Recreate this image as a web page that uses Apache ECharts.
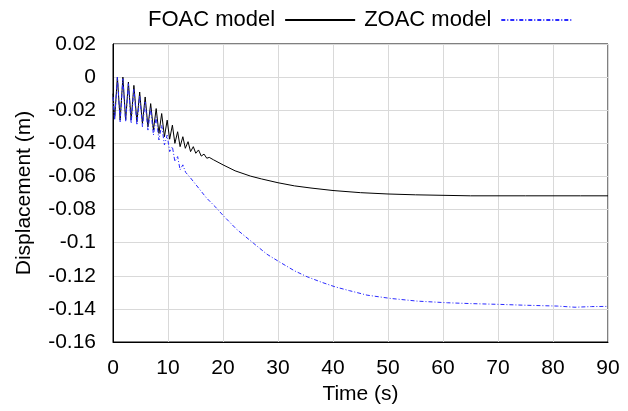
<!DOCTYPE html>
<html>
<head>
<meta charset="utf-8">
<script src="https://cdn.jsdelivr.net/npm/echarts@6/dist/echarts.min.js"></script>
<style>html,body{margin:0;padding:0;background:#fff;}#c{width:628px;height:411px;}</style>
</head>
<body>
<div id="c"></div>
<script>
// FOAC model: time (s) and displacement (m)
const foacT = [0, 0.3, 0.8, 1.3, 1.8, 2.3, 2.8, 3.3, 3.8, 4.35, 4.85, 5.35, 5.85, 6.35, 6.85, 7.35, 7.85, 8.35, 8.85, 9.35, 9.85, 10.3, 10.8, 11.25, 11.75, 12.2, 12.7, 13.15, 13.65, 14.1, 14.6, 15.05, 15.55, 16.05, 16.55, 17.05, 17.5, 18.3, 20, 22.2, 25, 27, 30, 33, 36, 40, 45, 50, 55, 60, 65, 70, 75, 80, 85, 90];
const foacY = [-0.010, -0.025, 0.000, -0.026, 0.000, -0.026, -0.003, -0.026, -0.005, -0.027, -0.009, -0.028, -0.012, -0.030, -0.016, -0.032, -0.019, -0.034, -0.022, -0.036, -0.026, -0.0375, -0.029, -0.040, -0.033, -0.042, -0.036, -0.043, -0.039, -0.045, -0.042, -0.046, -0.044, -0.0477, -0.0465, -0.049, -0.0485, -0.050, -0.053, -0.0566, -0.0598, -0.0615, -0.0638, -0.0657, -0.067, -0.0685, -0.0698, -0.0706, -0.0711, -0.0714, -0.0717, -0.0717, -0.0717, -0.0717, -0.0717, -0.0717];
// ZOAC model
const zoacT = [0, 0.3, 0.8, 1.3, 1.8, 2.3, 2.8, 3.3, 3.8, 4.35, 4.85, 5.35, 5.85, 6.35, 6.85, 7.35, 7.85, 8.35, 8.85, 9.35, 9.85, 10.3, 10.8, 11.25, 11.75, 12.2, 12.7, 13.2, 14, 14.6, 15.8, 17, 18.5, 20, 22.5, 25.6, 28, 30.2, 33, 35.3, 38, 40.4, 43, 46.2, 50.5, 55.3, 60.8, 65, 70.5, 75, 80.8, 84, 87, 90];
const zoacY = [-0.012, -0.026, 0.000, -0.027, -0.001, -0.027, -0.004, -0.028, -0.007, -0.029, -0.011, -0.030, -0.015, -0.032, -0.019, -0.035, -0.024, -0.038, -0.029, -0.041, -0.035, -0.045, -0.042, -0.051, -0.048, -0.056, -0.053, -0.0575, -0.0605, -0.063, -0.068, -0.073, -0.078, -0.0835, -0.092, -0.1005, -0.107, -0.1115, -0.117, -0.1206, -0.124, -0.1267, -0.129, -0.1317, -0.1337, -0.1353, -0.1363, -0.1368, -0.1373, -0.1378, -0.1383, -0.139, -0.1386, -0.1385];
const seriesNames = ['FOAC model', 'ZOAC model'];
const xTicks = [0, 10, 20, 30, 40, 50, 60, 70, 80, 90];
const yTicks = ['0.02', '0', '-0.02', '-0.04', '-0.06', '-0.08', '-0.1', '-0.12', '-0.14', '-0.16'];

const FONT = '"Liberation Sans", Arial, sans-serif';
const zip = (a, b) => a.map((v, i) => [v, b[i]]);
const chart = echarts.init(document.getElementById('c'), null, {renderer: 'canvas'});
chart.setOption({
  animation: false,
  backgroundColor: '#fff',
  legend: {
    left: 143, top: 4,
    align: 'right',
    itemWidth: 70, itemHeight: 10, itemGap: 8,
    itemStyle: {opacity: 0},
    textStyle: {fontFamily: FONT, fontSize: 22, color: '#000', padding: [0, 5, 0, 0]},
    data: seriesNames
  },
  grid: {left: 113, right: 20, top: 44, bottom: 69, show: true, borderColor: '#000', borderWidth: 1},
  xAxis: {
    type: 'value', min: 0, max: 90, interval: 10,
    name: 'Time (s)', nameLocation: 'middle', nameGap: 42,
    nameTextStyle: {fontFamily: FONT, fontSize: 21, color: '#000'},
    axisLine: {onZero: false, lineStyle: {color: '#000'}},
    axisTick: {show: false},
    axisLabel: {fontFamily: FONT, fontSize: 21, color: '#000', margin: 16, formatter: v => String(xTicks[xTicks.indexOf(v)])},
    splitLine: {show: true, lineStyle: {color: '#d9d9d9', width: 1}}
  },
  yAxis: {
    type: 'value', min: -0.16, max: 0.02, interval: 0.02,
    name: 'Displacement (m)', nameLocation: 'middle', nameGap: 78,
    nameTextStyle: {fontFamily: FONT, fontSize: 21, color: '#000'},
    axisLine: {onZero: false, lineStyle: {color: '#000'}},
    axisTick: {show: false},
    axisLabel: {fontFamily: FONT, fontSize: 21, color: '#000', margin: 17,
      formatter: v => { const i = Math.round((0.02 - v) / 0.02); return yTicks[i]; }},
    splitLine: {show: true, lineStyle: {color: '#d9d9d9', width: 1}}
  },
  series: [
    {name: seriesNames[0], type: 'line', data: zip(foacT, foacY), symbol: 'none', showSymbol: false,
     lineStyle: {color: '#000', width: 1}, itemStyle: {color: '#000'}},
    {name: seriesNames[1], type: 'line', data: zip(zoacT, zoacY), symbol: 'none', showSymbol: false,
     lineStyle: {color: '#2a2aff', width: 1, type: [4, 2, 1, 2]}, itemStyle: {color: '#2a2aff'}}
  ]
});
</script>
</body>
</html>
